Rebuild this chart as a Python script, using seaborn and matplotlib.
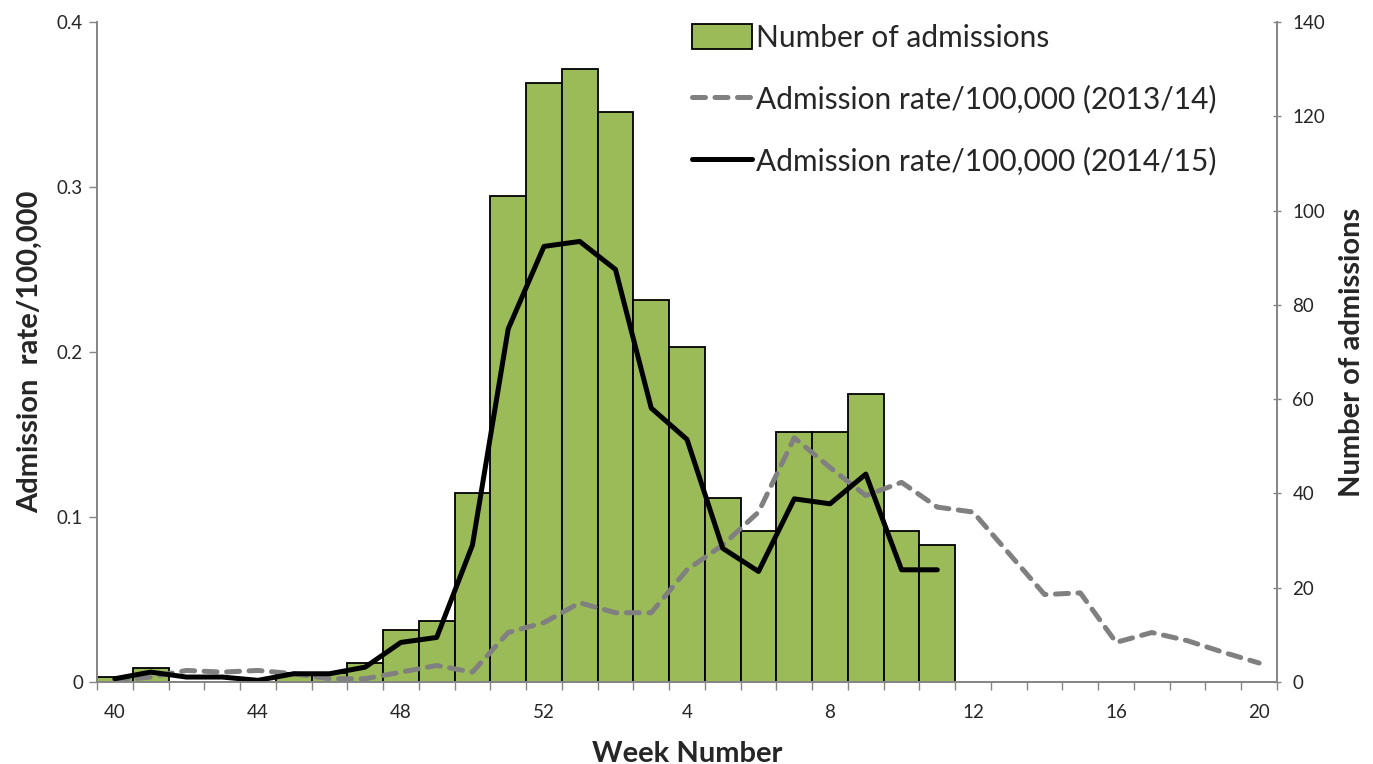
import numpy as np
import pandas as pd
import matplotlib
matplotlib.use("Agg")
import matplotlib.pyplot as plt
from matplotlib.ticker import FixedLocator, FuncFormatter
from matplotlib.lines import Line2D
from matplotlib.patches import Patch
import seaborn as sns

# ---------------- data ----------------
week_labels = [str(w) for w in list(range(40, 53)) + list(range(1, 21))]

admissions = [1, 3, 0, 0, 0, 2, 2, 4, 11, 13, 40, 103, 127,
              130, 121, 81, 71, 39, 32, 53, 53, 61, 32, 29] + [np.nan] * 9

rate_1415 = [0.002, 0.006, 0.003, 0.003, 0.001, 0.005, 0.005, 0.009, 0.024,
             0.027, 0.083, 0.214, 0.264,
             0.267, 0.250, 0.166, 0.147, 0.081, 0.067, 0.111, 0.108, 0.126,
             0.068, 0.068] + [np.nan] * 9

rate_1314 = [0.001, 0.003, 0.007, 0.006, 0.007, 0.005, 0.002, 0.002, 0.006,
             0.010, 0.006, 0.030, 0.036,
             0.048, 0.042, 0.042, 0.068, 0.083, 0.103, 0.148, 0.130, 0.113,
             0.121, 0.106, 0.103, 0.078, 0.053, 0.054, 0.024, 0.030, 0.025,
             0.018, 0.0115]

df = pd.DataFrame({
    "pos": np.arange(len(week_labels)),
    "week": week_labels,
    "admissions": admissions,
    "rate_1415": rate_1415,
    "rate_1314": rate_1314,
})

# ---------------- style ----------------
sns.set_style("white")
plt.rcParams["font.family"] = ["Lato", "DejaVu Sans"]

bar_green = "#9BBB59"
axis_grey = "#868686"
dash_style = (0, (2.6, 1.9))

fig = plt.figure(figsize=(13.73, 7.64), dpi=100)
ax = fig.add_axes([97 / 1373, 1 - 682 / 764, 1180 / 1373, 660 / 764])
ax2 = ax.twinx()

# bars on the right axis, drawn underneath the rate lines
sns.barplot(data=df, x="pos", y="admissions", native_scale=True, width=1.0,
            color=bar_green, edgecolor="black", linewidth=1.3,
            saturation=1, ax=ax2, errorbar=None)
ax.set_zorder(ax2.get_zorder() + 1)
ax.patch.set_visible(False)

sns.lineplot(data=df, x="pos", y="rate_1314", ax=ax, color="#808080",
             linewidth=3.6, linestyle=dash_style, dash_capstyle="round")
sns.lineplot(data=df, x="pos", y="rate_1415", ax=ax, color="black",
             linewidth=3.6, solid_capstyle="round")

# ---------------- axes ----------------
ax.set_xlim(-0.5, len(week_labels) - 0.5)
ax.set_ylim(0, 0.4)
ax2.set_ylim(0, 140)

ax.set_yticks([0, 0.1, 0.2, 0.3, 0.4])
ax.yaxis.set_major_formatter(FuncFormatter(lambda v, p: "0" if v == 0 else f"{v:.1f}"))
ax2.set_yticks(range(0, 141, 20))

label_pos = list(range(0, len(week_labels), 4))
ax.xaxis.set_major_locator(FixedLocator(label_pos))
ax.set_xticklabels([week_labels[i] for i in label_pos])
ax.xaxis.set_minor_locator(FixedLocator(np.arange(-0.5, len(week_labels), 1)))
ax.tick_params(axis="x", which="major", length=0, pad=16, labelsize=13.5)
ax.tick_params(axis="x", which="minor", length=6, width=1, color=axis_grey,
               direction="out", bottom=True)
ax.tick_params(axis="y", length=6, width=1, color=axis_grey, direction="out",
               labelsize=13.5, left=True, pad=4)
ax2.tick_params(axis="y", length=6, width=1, color=axis_grey, direction="inout",
                labelsize=13.5, right=True, pad=8)
ax2.set_xlim(ax.get_xlim())

for a in (ax, ax2):
    a.spines["top"].set_visible(False)
    for s in ("left", "right", "bottom"):
        a.spines[s].set_color(axis_grey)
        a.spines[s].set_linewidth(1.3)

ax.set_xlabel("Week Number", fontsize=21, fontweight="bold", labelpad=14)
ax.set_ylabel("Admission  rate/100,000", fontsize=21, fontweight="bold", labelpad=10)
ax2.set_ylabel("Number of admissions", fontsize=21, fontweight="bold", labelpad=10)

# ---------------- legend ----------------
handles = [
    Patch(facecolor=bar_green, edgecolor="black", linewidth=1.3),
    Line2D([], [], color="#808080", linewidth=3.6, linestyle=dash_style,
           dash_capstyle="round"),
    Line2D([], [], color="black", linewidth=3.6, solid_capstyle="round"),
]
labels = ["Number of admissions", "Admission rate/100,000 (2013/14)",
          "Admission rate/100,000 (2014/15)"]
fig.legend(handles, labels, loc="upper left", bbox_to_anchor=(680 / 1373, 1 - 12 / 764),
           frameon=False, fontsize=21.5, handlelength=2.0, handleheight=0.9,
           handletextpad=0.15, labelspacing=1.1, borderaxespad=0)

fig.savefig("out.png", dpi=100)
